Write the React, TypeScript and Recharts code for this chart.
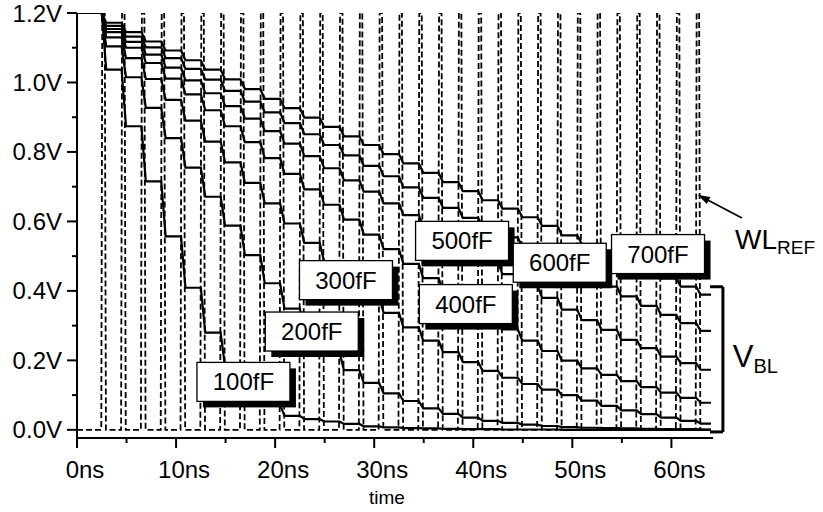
import React from 'react';
import { LineChart, Line, XAxis, YAxis, ReferenceDot, ReferenceLine } from 'recharts';

// WL_REF pulse instants (ns), read from the dashed pulses
const pulseTimes = [2.5, 4.5, 6.5, 8.5, 10.5, 12.5, 14.5, 16.5, 18.5, 20.5, 22.5, 24.5, 26.5, 28.5, 30.5, 32.5, 34.5, 36.5, 38.5, 40.5, 42.5, 44.5, 46.5, 48.5, 50.5, 52.5, 54.5, 56.5, 58.5, 60.5, 62.5];

// bit-line voltage after each pulse (V)
const vbl100 = [1.037, 0.874, 0.715, 0.557, 0.409, 0.280, 0.180, 0.115, 0.072, 0.040, 0.031, 0.024, 0.017, 0.010, 0.007, 0.005, 0.004, 0.003, 0.002, 0.002, 0.001, 0.001, 0.001, 0, 0, 0, 0, 0, 0, 0, 0];
const vbl200 = [1.104, 1.015, 0.927, 0.840, 0.755, 0.671, 0.588, 0.503, 0.422, 0.349, 0.283, 0.222, 0.172, 0.135, 0.105, 0.083, 0.062, 0.046, 0.035, 0.026, 0.020, 0.015, 0.011, 0.008, 0.006, 0.005, 0.004, 0.003, 0.002, 0.002, 0.001];
const vbl300 = [1.130, 1.070, 1.010, 0.950, 0.890, 0.830, 0.770, 0.711, 0.652, 0.594, 0.538, 0.484, 0.432, 0.383, 0.337, 0.295, 0.257, 0.224, 0.195, 0.170, 0.150, 0.132, 0.116, 0.100, 0.084, 0.069, 0.056, 0.045, 0.035, 0.026, 0.018];
const vbl400 = [1.145, 1.100, 1.056, 1.011, 0.966, 0.920, 0.874, 0.828, 0.782, 0.737, 0.692, 0.648, 0.605, 0.562, 0.520, 0.478, 0.437, 0.397, 0.359, 0.323, 0.289, 0.257, 0.227, 0.199, 0.177, 0.158, 0.140, 0.123, 0.107, 0.092, 0.078];
const vbl500 = [1.154, 1.117, 1.080, 1.043, 1.006, 0.969, 0.932, 0.896, 0.860, 0.824, 0.788, 0.753, 0.718, 0.686, 0.652, 0.618, 0.584, 0.550, 0.516, 0.482, 0.448, 0.414, 0.380, 0.346, 0.316, 0.288, 0.259, 0.235, 0.211, 0.192, 0.173];
const vbl600 = [1.163, 1.132, 1.101, 1.070, 1.039, 1.008, 0.976, 0.945, 0.914, 0.883, 0.851, 0.820, 0.790, 0.760, 0.730, 0.698, 0.668, 0.639, 0.610, 0.582, 0.554, 0.526, 0.497, 0.469, 0.440, 0.412, 0.384, 0.357, 0.331, 0.307, 0.285];
const vbl700 = [1.172, 1.145, 1.118, 1.092, 1.064, 1.037, 1.009, 0.981, 0.953, 0.926, 0.899, 0.872, 0.845, 0.820, 0.794, 0.767, 0.740, 0.713, 0.687, 0.661, 0.637, 0.612, 0.587, 0.560, 0.535, 0.510, 0.485, 0.460, 0.436, 0.412, 0.389];

const V_START = 1.2;
const V_WL_HIGH = 1.2;
const T_END = 64;

const xTicks = [0, 5, 10, 15, 20, 25, 30, 35, 40, 45, 50, 55, 60];
const yTicks = [0, 0.1, 0.2, 0.3, 0.4, 0.5, 0.6, 0.7, 0.8, 0.9, 1.0, 1.1, 1.2];

const boxLabels = [
  { text: '100fF', t: 16.8, v: 0.138 },
  { text: '200fF', t: 23.7, v: 0.283 },
  { text: '300fF', t: 27.15, v: 0.431 },
  { text: '400fF', t: 39.25, v: 0.362 },
  { text: '500fF', t: 38.87, v: 0.544 },
  { text: '600fF', t: 48.73, v: 0.481 },
  { text: '700fF', t: 58.65, v: 0.506 },
];

const FONT = '"Liberation Sans", Arial, Helvetica, sans-serif';
const DROP = 0.45;

function stepSeries(levels: number[]) {
  const pts: { t: number; v: number }[] = [{ t: 0, v: V_START }];
  let prev = V_START;
  pulseTimes.forEach((t, k) => {
    pts.push({ t, v: prev });
    pts.push({ t: t + DROP, v: levels[k] });
    prev = levels[k];
  });
  pts.push({ t: T_END, v: prev });
  return pts;
}

function wlSeries() {
  const pts: { t: number; v: number }[] = [{ t: 0, v: 0 }];
  pulseTimes.forEach((t) => {
    pts.push({ t: t - 0.05, v: 0 });
    pts.push({ t: t + 0.05, v: V_WL_HIGH });
    pts.push({ t: t + 0.3, v: V_WL_HIGH });
    pts.push({ t: t + 0.42, v: 0 });
  });
  pts.push({ t: T_END, v: 0 });
  return pts;
}

const curves = [vbl100, vbl200, vbl300, vbl400, vbl500, vbl600, vbl700].map(stepSeries);
const wl = wlSeries();

const XTick = (props: any) => {
  const { x, y, payload } = props;
  const major = payload.value % 10 === 0;
  const axisY = y - 23;
  return (
    <g>
      <line x1={x} x2={x} y1={axisY} y2={axisY + (major ? 10 : 5)} stroke="#000" strokeWidth={2} />
      {major && (
        <text x={x + 8} y={y} dy="0.71em" textAnchor="middle" fontSize={24} fontFamily={FONT} fill="#000">
          {payload.value}ns
        </text>
      )}
    </g>
  );
};

const YTick = (props: any) => {
  const { x, y, payload } = props;
  const major = Math.round(payload.value * 10) % 2 === 0;
  const axisX = x + 15;
  return (
    <g>
      <line x1={axisX} x2={axisX - (major ? 10 : 5)} y1={y} y2={y} stroke="#000" strokeWidth={2} />
      {major && (
        <text x={x} y={y} dy="0.355em" textAnchor="end" fontSize={24} fontFamily={FONT} fill="#000">
          {payload.value.toFixed(1)}V
        </text>
      )}
    </g>
  );
};

const TimeLabel = (props: any) => {
  const vb = props.viewBox || {};
  const cx = vb.x + vb.width / 2 - 8;
  const by = vb.y + 66;
  return (
    <text x={cx} y={by} textAnchor="middle" fontSize={19} fontFamily={FONT} fill="#000">
      time
    </text>
  );
};

const BoxLabel = (props: any) => {
  const { cx, cy, text } = props;
  const w = 93;
  const h = 39;
  return (
    <g>
      <rect x={cx - w / 2 + 6} y={cy - h / 2 + 6} width={w} height={h} fill="#000" />
      <rect x={cx - w / 2} y={cy - h / 2} width={w} height={h} fill="#fff" stroke="#000" strokeWidth={1.3} />
      <text x={cx} y={cy} dy="0.355em" textAnchor="middle" fontSize={24} fontFamily={FONT} fill="#000">
        {text}
      </text>
    </g>
  );
};

const WLText = (props: any) => (
  <text x={props.cx} y={props.cy} fontSize={28} fontFamily={FONT} fill="#000">
    WL<tspan fontSize={19} dy={5}>REF</tspan>
  </text>
);

const VBLText = (props: any) => (
  <text x={props.cx} y={props.cy} fontSize={31} fontFamily={FONT} fill="#000">
    V<tspan fontSize={20} dy={6}>BL</tspan>
  </text>
);

const Arrow = (props: any) => {
  const { cx, cy } = props;
  return (
    <g>
      <line x1={cx + 6} y1={cy + 3} x2={cx + 44} y2={cy + 23} stroke="#000" strokeWidth={1.6} />
      <polygon points={`${cx},${cy} ${cx + 8.8},${cy + 9.1} ${cx + 12.5},${cy + 2.1}`} fill="#000" />
    </g>
  );
};

export default function App() {
  return (
    <div style={{ position: 'absolute', left: 0, top: 0, width: 823, height: 512, background: '#fff' }}>
      <LineChart width={823} height={512} margin={{ top: 13, right: 110, bottom: 24, left: 0 }}>
        <XAxis
          type="number"
          dataKey="t"
          domain={[0, 64.2]}
          allowDataOverflow
          ticks={xTicks}
          interval={0}
          height={50}
          tickSize={10}
          tickMargin={13}
          tickLine={false}
          axisLine={{ stroke: '#000', strokeWidth: 2 }}
          tick={<XTick />}
          label={<TimeLabel />}
        />
        <YAxis
          type="number"
          dataKey="v"
          domain={[-0.0235, 1.2]}
          allowDataOverflow
          ticks={yTicks}
          interval={0}
          width={77}
          tickSize={10}
          tickMargin={5}
          tickLine={false}
          axisLine={{ stroke: '#000', strokeWidth: 2 }}
          tick={<YTick />}
        />
        <Line
          data={wl}
          dataKey="v"
          type="linear"
          dot={false}
          stroke="#000"
          strokeWidth={1.8}
          strokeDasharray="6 3"
          isAnimationActive={false}
        />
        {curves.map((c, i) => (
          <Line
            key={i}
            data={c}
            dataKey="v"
            type="linear"
            dot={false}
            stroke="#000"
            strokeWidth={2.2}
            isAnimationActive={false}
          />
        ))}
        <ReferenceLine segment={[{ x: 63.9, y: 0.412 }, { x: 65.2, y: 0.412 }]} stroke="#000" strokeWidth={3} ifOverflow="visible" />
        <ReferenceLine segment={[{ x: 65.2, y: 0.412 }, { x: 65.2, y: -0.006 }]} stroke="#000" strokeWidth={3} ifOverflow="visible" />
        <ReferenceLine segment={[{ x: 63.9, y: -0.006 }, { x: 65.2, y: -0.006 }]} stroke="#000" strokeWidth={3} ifOverflow="visible" />
        {boxLabels.map((b) => (
          <ReferenceDot
            key={b.text}
            x={b.t}
            y={b.v}
            r={0}
            ifOverflow="visible"
            shape={(p: any) => <BoxLabel cx={p.cx} cy={p.cy} text={b.text} />}
          />
        ))}
        <ReferenceDot x={62.68} y={0.676} r={0} ifOverflow="visible" shape={(p: any) => <Arrow cx={p.cx} cy={p.cy} />} />
        <ReferenceDot x={66.42} y={0.522} r={0} ifOverflow="visible" shape={(p: any) => <WLText cx={p.cx} cy={p.cy} />} />
        <ReferenceDot x={66.2} y={0.181} r={0} ifOverflow="visible" shape={(p: any) => <VBLText cx={p.cx} cy={p.cy} />} />
      </LineChart>
    </div>
  );
}
